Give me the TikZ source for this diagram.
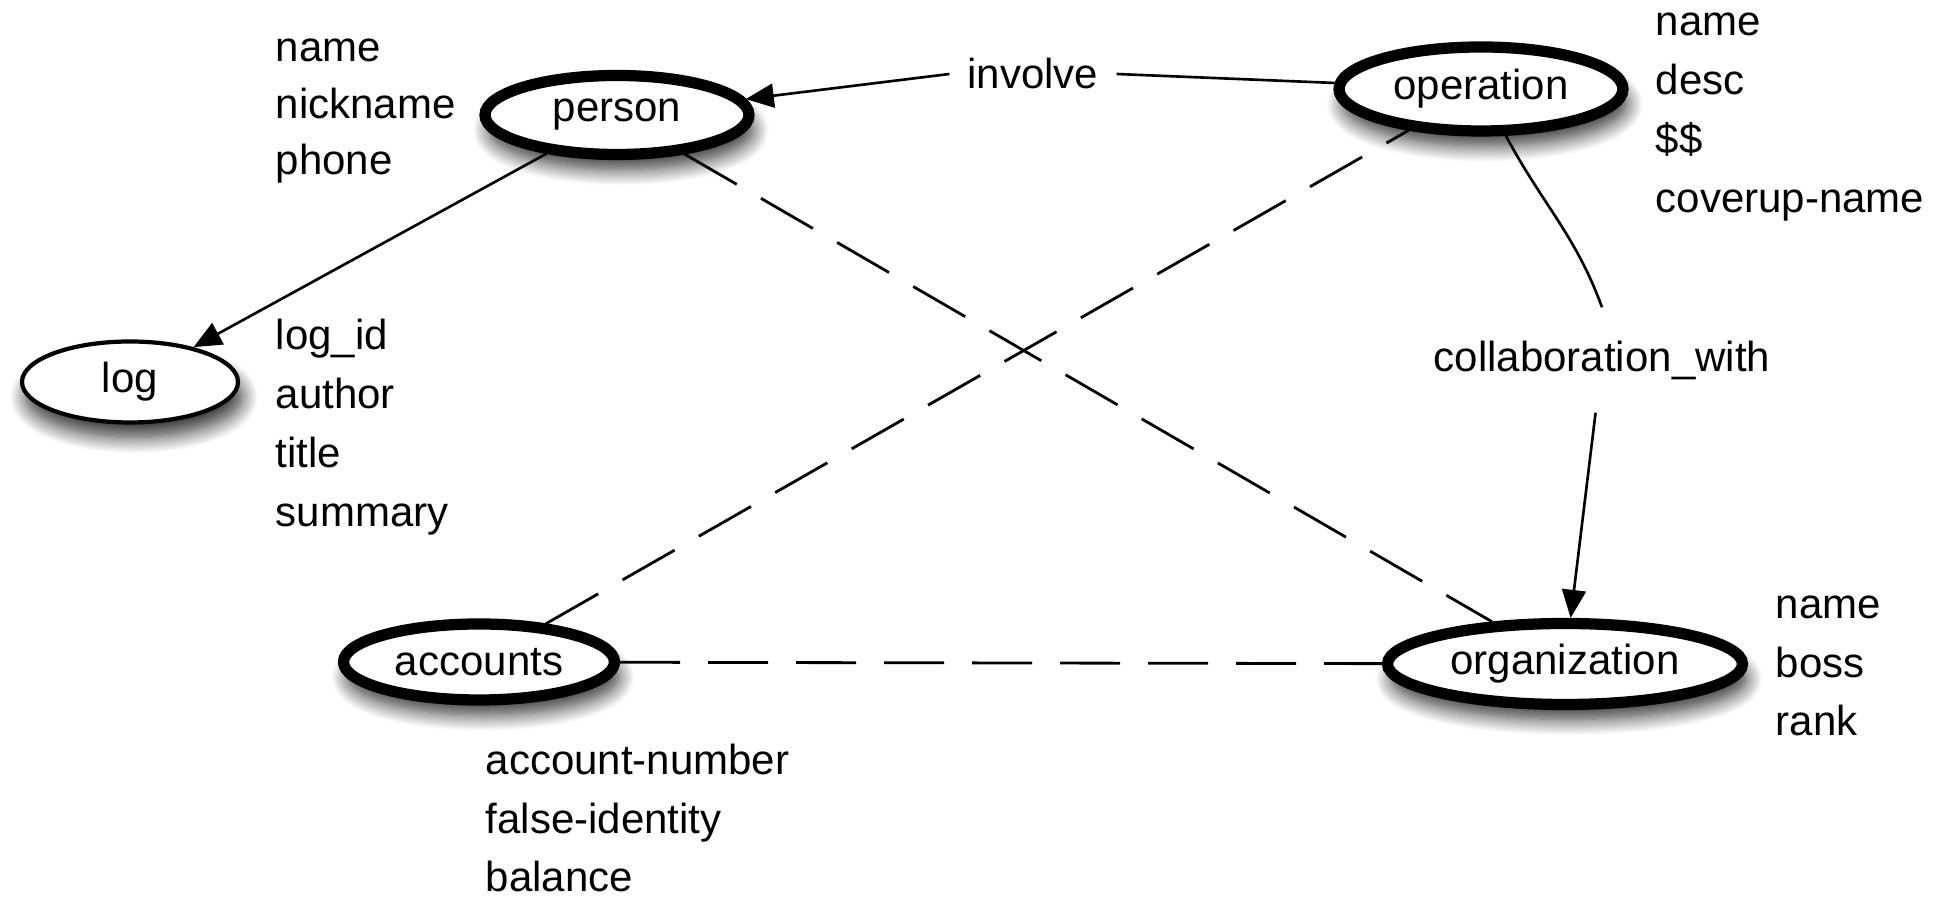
\documentclass[tikz,border=0pt]{standalone}
\usepackage{fontspec}
\setmainfont{Liberation Sans}
\usetikzlibrary{shapes.geometric,arrows.meta,shadows.blur}
\begin{document}
\begin{tikzpicture}[x=1cm,y=1cm,
  font=\fontsize{11.95pt}{14pt}\selectfont,
  entity/.style={ellipse, draw, line width=3.2pt, fill=white, inner sep=0pt,
     blur shadow={shadow xshift=0.4mm, shadow yshift=-1.5mm, shadow blur radius=1.6mm, shadow blur steps=14, shadow opacity=80}},
  weakentity/.style={entity, line width=1.2pt},
  attr/.style={anchor=base west, inner sep=0pt},
  rel/.style={inner sep=0pt},
  conn/.style={line width=0.75pt},
  dashconn/.style={line width=0.8pt, dash pattern=on 6mm off 2.8mm},
  arrowconn/.style={-{Triangle[length=2.8mm,width=2.4mm]}}
]
\path[use as bounding box] (0,0) rectangle (19.39,-8.99);

% entities
\node[entity, minimum width=2.64cm, minimum height=0.79cm] (person) at (6.17,-1.15) {person};
\node[entity, minimum width=2.84cm, minimum height=0.84cm] (operation) at (14.81,-0.89) {operation};
\node[weakentity, minimum width=2.16cm, minimum height=0.81cm] (log) at (1.30,-3.82) {log};
\node[entity, minimum width=2.71cm, minimum height=0.76cm] (accounts) at (4.79,-6.62) {accounts};
\node[entity, minimum width=3.55cm, minimum height=0.81cm] (organization) at (15.65,-6.64) {organization};

% relationship labels
\node[rel, inner xsep=1.75mm] (involve) at (10.33,-0.74) {involve};
\node[rel, minimum height=1.04cm] (collab) at (16.02,-3.60) {collaboration\_with};

% connectors
\draw[conn, arrowconn] (person) -- (log);
\draw[conn] (operation) -- (involve.east);
\draw[conn, arrowconn] (involve.west) -- (person);
\draw[conn] (operation.-62) to[out=-62, in=110] (collab.north);
\draw[conn, arrowconn] (collab) -- (organization);
\draw[dashconn] (person) -- (organization);
\draw[dashconn] (accounts) -- (operation);
\draw[dashconn] (accounts) -- (organization);

% attributes
\foreach \t [count=\i] in {name,nickname,phone}
  \node[attr] (pa\i) at (2.75,{-0.62-0.565*(\i-1)}) {\t};
\foreach \t [count=\i] in {log\_id,author,title,summary}
  \node[attr] (la\i) at (2.75,{-3.50-0.587*(\i-1)}) {\t};
\foreach \t [count=\i] in {name,desc,\$\$,coverup-name}
  \node[attr] (oa\i) at (16.55,{-0.36-0.59*(\i-1)}) {\t};
\foreach \t [count=\i] in {name,boss,rank}
  \node[attr] (ga\i) at (17.75,{-6.19-0.585*(\i-1)}) {\t};
\foreach \t [count=\i] in {account-number,false-identity,balance}
  \node[attr] (aa\i) at (4.85,{-7.75-0.585*(\i-1)}) {\t};
\end{tikzpicture}
\end{document}
